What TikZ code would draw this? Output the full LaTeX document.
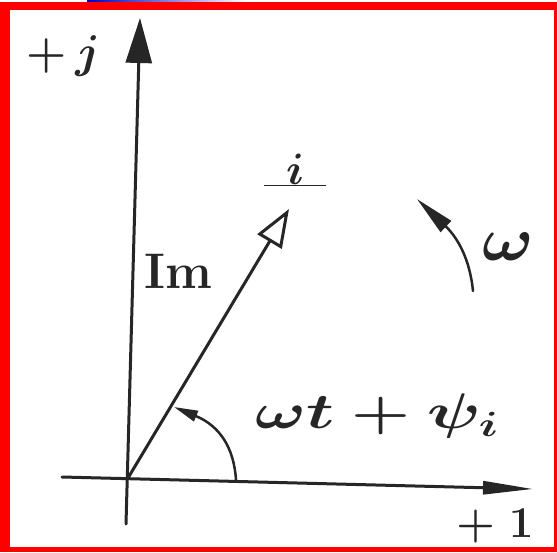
\RequirePackage{fix-cm}
\documentclass[tikz,border=0pt]{standalone}
\usetikzlibrary{arrows.meta}
\begin{document}
\begin{tikzpicture}[x=1pt,y=-1pt,
  ink/.style={draw=black!85},
  axis/.style={ink, line width=3pt, line cap=round},
  arcline/.style={ink, line width=2.5pt, line cap=round},
  lbl/.style={inner sep=0pt, text=black!85, font=\boldmath\bfseries}]
\useasboundingbox (0,0) rectangle (557,552);
% frame
\fill[red] (0,1.5) rectangle (557,552);
\fill[white] (10,9.5) rectangle (554,546.5);
\shade[left color=blue!75!black, right color=white] (87,0) rectangle (245,1.5);
% axes
\coordinate (vb) at (126,524);
\coordinate (vt) at (140,18);
\coordinate (hl) at (62,477);
\coordinate (hr) at (533,489);
\draw[axis,-{Triangle[length=45pt,width=26pt]}] (vb) -- (vt);
\draw[axis,-{Triangle[length=50pt,width=13pt]}] (hl) -- (hr);
% phasor
\coordinate (O) at (128,478);
\coordinate (P) at (289,209);
\draw[axis,-{Triangle[open,length=38pt,width=28pt,fill=white]}] (O) -- (P);
% angle arc
\coordinate (a0) at (236,480);
\coordinate (a1) at (174,407);
\draw[arcline,-{Triangle[length=24pt,width=11pt]}] (a0) .. controls (234,448) and (220,426) .. (a1);
% omega arrow
\coordinate (w0) at (473,291);
\coordinate (w1) at (417,199);
\draw[arcline,-{Triangle[length=40pt,width=15pt]}] (w0) .. controls (470,260) and (458,238) .. (w1);
% labels
\node[lbl] (pj) at (63,56) {\fontsize{46}{50}\selectfont $+\,j$};
\node[lbl] (lbi) at (295,170) {\fontsize{44}{48}\selectfont $\underline{\;\,i\;\,}$};
\node[lbl] (lbim) at (178,271) {\fontsize{50}{54}\selectfont Im};
\node[lbl] (lbang) at (377,416) {\scalebox{1.35}[1]{\fontsize{50}{54}\selectfont $\omega t+\psi_i$}};
\node[lbl] (lbw) at (508,247) {\scalebox{1.1}[1]{\fontsize{62}{66}\selectfont $\omega$}};
\node[lbl] (lbone) at (495,526) {\fontsize{44}{48}\selectfont $+\;1$};
\end{tikzpicture}
\end{document}
